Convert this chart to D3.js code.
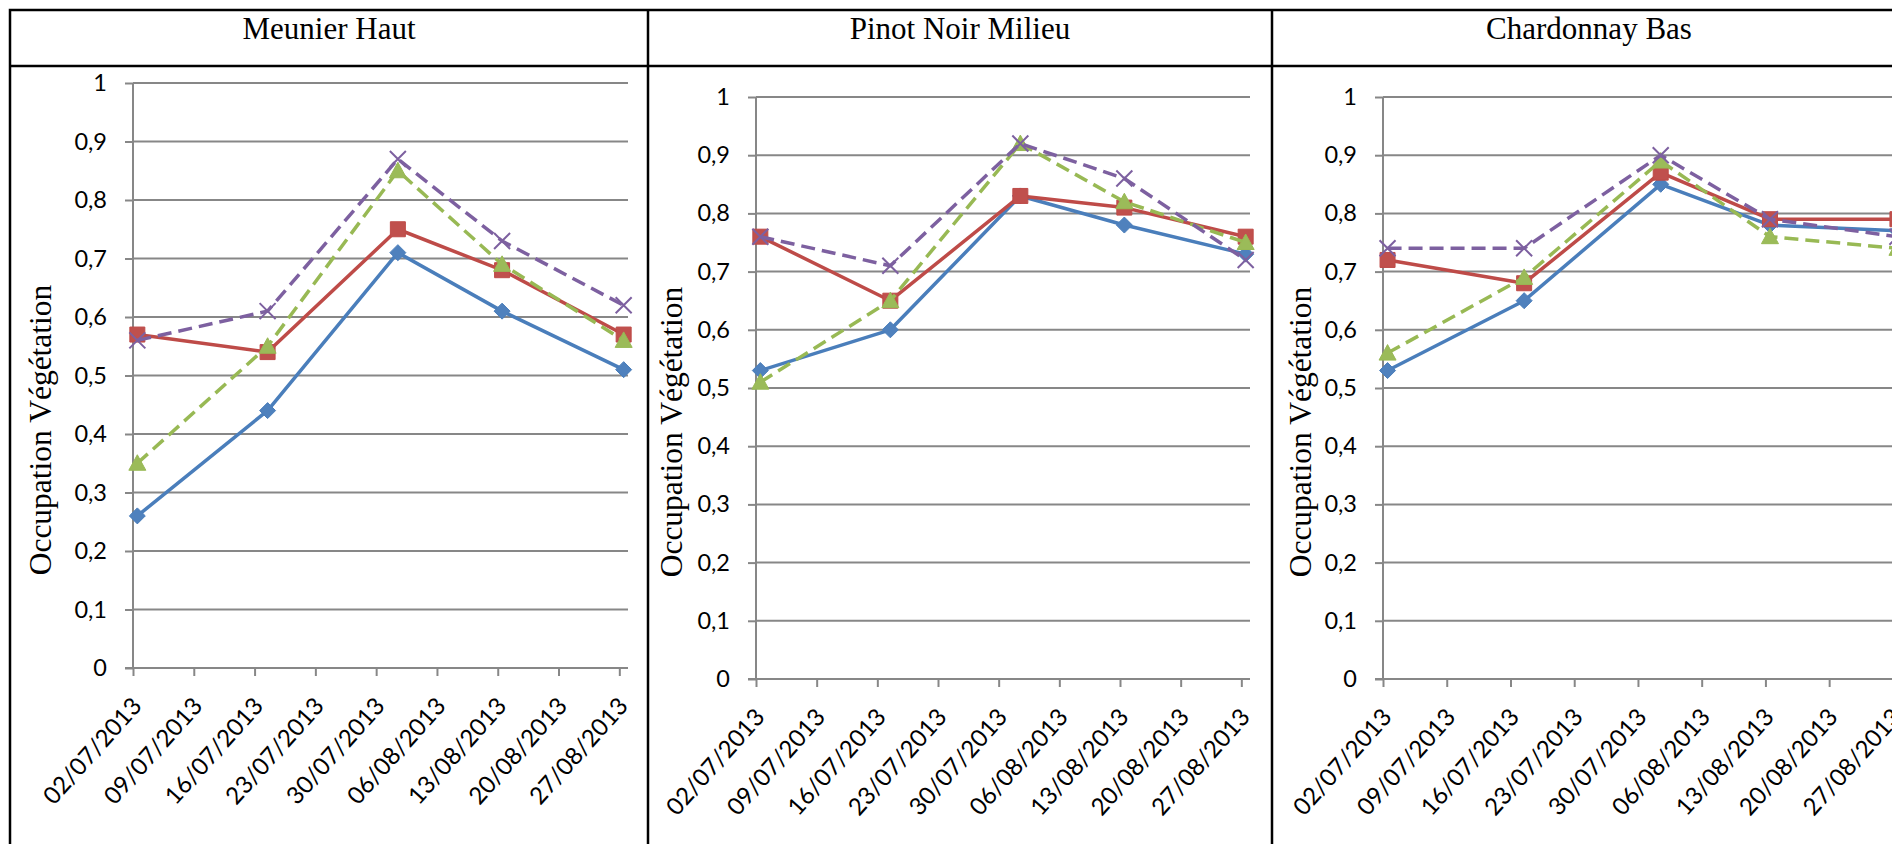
<!DOCTYPE html>
<html>
<head>
<meta charset="utf-8">
<script src="https://cdn.jsdelivr.net/npm/d3@7"></script>
<style>
  html, body { margin: 0; padding: 0; background: #fff; overflow: hidden; }
  svg { display: block; }
</style>
</head>
<body>
<svg id="chart" width="1892" height="844"></svg>
<script>
// ---------------- DATA ----------------
const panelTitles = ["Meunier Haut", "Pinot Noir Milieu", "Chardonnay Bas"];
const yAxisTitle = "Occupation Végétation";
const dates = ["2013-07-02", "2013-07-17", "2013-08-01", "2013-08-13", "2013-08-27"];
const tickDates = ["2013-07-02", "2013-07-09", "2013-07-16", "2013-07-23", "2013-07-30",
                   "2013-08-06", "2013-08-13", "2013-08-20", "2013-08-27"];
const tickLabels = ["02/07/2013", "09/07/2013", "16/07/2013", "23/07/2013", "30/07/2013",
                    "06/08/2013", "13/08/2013", "20/08/2013", "27/08/2013"];
const yTicks = [0, 0.1, 0.2, 0.3, 0.4, 0.5, 0.6, 0.7, 0.8, 0.9, 1];
const yTickLabels = ["0", "0,1", "0,2", "0,3", "0,4", "0,5", "0,6", "0,7", "0,8", "0,9", "1"];

// Meunier Haut
const meunierSerie1 = [0.26, 0.44, 0.71, 0.61, 0.51];
const meunierSerie2 = [0.57, 0.54, 0.75, 0.68, 0.57];
const meunierSerie3 = [0.35, 0.55, 0.85, 0.69, 0.56];
const meunierSerie4 = [0.56, 0.61, 0.87, 0.73, 0.62];
// Pinot Noir Milieu
const pinotSerie1 = [0.53, 0.60, 0.83, 0.78, 0.73];
const pinotSerie2 = [0.76, 0.65, 0.83, 0.81, 0.76];
const pinotSerie3 = [0.51, 0.65, 0.92, 0.82, 0.75];
const pinotSerie4 = [0.76, 0.71, 0.92, 0.86, 0.72];
// Chardonnay Bas
const chardSerie1 = [0.53, 0.65, 0.85, 0.78, 0.77];
const chardSerie2 = [0.72, 0.68, 0.87, 0.79, 0.79];
const chardSerie3 = [0.56, 0.69, 0.89, 0.76, 0.74];
const chardSerie4 = [0.74, 0.74, 0.90, 0.79, 0.76];

const panelSeries = [
  [meunierSerie1, meunierSerie2, meunierSerie3, meunierSerie4],
  [pinotSerie1, pinotSerie2, pinotSerie3, pinotSerie4],
  [chardSerie1, chardSerie2, chardSerie3, chardSerie4]
];

// ---------------- STYLE / LAYOUT ----------------
const seriesStyle = [
  { line: "#4A7EBB", fill: "#4F81BD", dash: null, marker: "diamond" },
  { line: "#BE4B48", fill: "#C0504D", dash: null, marker: "square" },
  { line: "#98B954", fill: "#9BBB59", dash: "14,7", marker: "triangle" },
  { line: "#7D60A0", fill: "#8064A2", dash: "14,7", marker: "x" }
];

const layout = [
  { cx0: 10,   cx1: 648,  x0: 133,  x1: 628,  yTop: 83, yBot: 668, titleX: 51 },
  { cx0: 648,  cx1: 1272, x0: 756,  x1: 1250, yTop: 97, yBot: 679, titleX: 682 },
  { cx0: 1272, cx1: 1906, x0: 1383, x1: 1902, yTop: 97, yBot: 679, titleX: 1311 }
];

const tickFont = "Lato, 'Open Sans', sans-serif";
const serifFont = "'Liberation Serif', 'Times New Roman', serif";
const gridColor = "#878787";

const parse = d3.utcParse("%Y-%m-%d");
const dateObjs = dates.map(parse);
const tickObjs = tickDates.map(parse);
const domainStart = parse("2013-07-02");
const domainEnd = parse("2013-08-28");
const halfDay = 12 * 3600 * 1000;

const svg = d3.select("#chart");
svg.append("rect").attr("width", 1892).attr("height", 844).attr("fill", "#fff");

// table borders
const tableG = svg.append("g").attr("fill", "none").attr("stroke", "#000").attr("stroke-width", 2.5);
tableG.append("rect").attr("x", 10).attr("y", 10).attr("width", 1896).attr("height", 850);
tableG.append("line").attr("x1", 10).attr("x2", 1906).attr("y1", 66).attr("y2", 66);
[648, 1272].forEach(xv => {
  tableG.append("line").attr("x1", xv).attr("x2", xv).attr("y1", 10).attr("y2", 860);
});

function markerPath(type) {
  if (type === "diamond") return "M0,-8L8,0L0,8L-8,0Z";
  if (type === "square") return "M-7.5,-7.5H7.5V7.5H-7.5Z";
  if (type === "triangle") return "M0,-8.5L8.5,7L-8.5,7Z";
  return "M-8,-8L8,8M-8,8L8,-8";
}

layout.forEach((L, pi) => {
  const g = svg.append("g");
  // title
  g.append("text")
    .attr("x", (L.cx0 + L.cx1) / 2).attr("y", 39)
    .attr("text-anchor", "middle")
    .attr("font-family", serifFont).attr("font-size", 31)
    .attr("fill", "#000")
    .text(panelTitles[pi]);

  const x = d3.scaleUtc().domain([domainStart, domainEnd]).range([L.x0, L.x1]);
  const y = d3.scaleLinear().domain([0, 1]).range([L.yBot, L.yTop]);

  // gridlines
  g.append("g").selectAll("line").data(yTicks).join("line")
    .attr("x1", L.x0).attr("x2", L.x1)
    .attr("y1", d => y(d)).attr("y2", d => y(d))
    .attr("stroke", gridColor).attr("stroke-width", 2);

  // y axis
  const yAxis = d3.axisLeft(y).tickValues(yTicks).tickSize(8).tickPadding(18)
    .tickFormat((d, i) => yTickLabels[i]);
  const yg = g.append("g").attr("transform", `translate(${L.x0},0)`).call(yAxis);
  yg.select(".domain").attr("stroke", gridColor).attr("stroke-width", 2)
    .attr("d", `M0,${L.yTop}V${L.yBot}`);
  yg.selectAll(".tick line").attr("stroke", gridColor).attr("stroke-width", 2);
  yg.selectAll(".tick text").attr("font-family", tickFont).attr("font-size", 23.5)
    .attr("fill", "#000");

  // x axis
  const xAxis = d3.axisBottom(x).tickValues(tickObjs).tickSize(8).tickFormat("");
  const xg = g.append("g").attr("transform", `translate(0,${L.yBot})`).call(xAxis);
  xg.select(".domain").attr("stroke", gridColor).attr("stroke-width", 2)
    .attr("d", `M${L.x0 - 8},0H${L.x1}`);
  xg.selectAll(".tick line").attr("stroke", gridColor).attr("stroke-width", 2);

  g.append("g").selectAll("text").data(tickObjs).join("text")
    .attr("transform", (d) => `translate(${x(d) + 10},${L.yBot + 39}) rotate(-48)`)
    .attr("text-anchor", "end")
    .attr("font-family", tickFont).attr("font-size", 24)
    .attr("fill", "#000")
    .text((d, i) => tickLabels[i]);

  // y axis title
  g.append("text")
    .attr("transform", `translate(${L.titleX},${pi === 0 ? 430 : 432}) rotate(-90)`)
    .attr("text-anchor", "middle")
    .attr("font-family", serifFont).attr("font-size", 31.5)
    .attr("fill", "#000")
    .text(yAxisTitle);

  // series
  const line = d3.line()
    .x((d, i) => x(new Date(dateObjs[i].getTime() + halfDay)))
    .y(d => y(d));

  panelSeries[pi].forEach((vals, si) => {
    const st = seriesStyle[si];
    g.append("path").datum(vals)
      .attr("d", line)
      .attr("fill", "none")
      .attr("stroke", st.line).attr("stroke-width", 3.5)
      .attr("stroke-linejoin", "round")
      .attr("stroke-dasharray", st.dash);
    g.append("g").selectAll("path").data(vals).join("path")
      .attr("transform", (d, i) => `translate(${x(new Date(dateObjs[i].getTime() + halfDay))},${y(d)})`)
      .attr("d", markerPath(st.marker))
      .attr("fill", st.marker === "x" ? "none" : st.fill)
      .attr("stroke", st.line)
      .attr("stroke-width", st.marker === "x" ? 2 : 1);
  });
});
</script>
</body>
</html>
